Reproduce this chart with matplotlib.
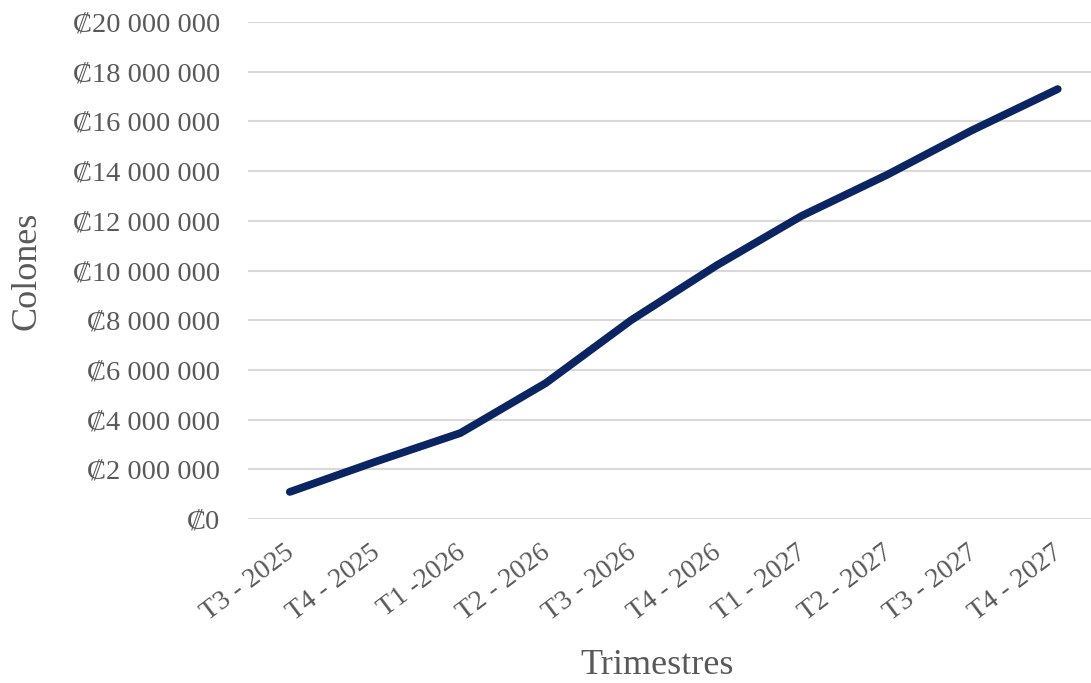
import matplotlib
matplotlib.use("Agg")
import matplotlib.pyplot as plt
from matplotlib.ticker import FuncFormatter, MultipleLocator
from matplotlib.transforms import ScaledTranslation

# Ingresos acumulados por trimestre (colones)
trimestres = ["T3 - 2025", "T4 - 2025", "T1 -2026", "T2 - 2026", "T3 - 2026",
              "T4 - 2026", "T1 - 2027", "T2 - 2027", "T3 - 2027", "T4 - 2027"]
colones = [1090000, 2300000, 3460000, 5470000, 8000000,
           10200000, 12200000, 13850000, 15650000, 17300000]

plt.rcParams['font.family'] = ['Liberation Serif', 'DejaVu Serif']
gris = '#595959'

fig = plt.figure(figsize=(10.91, 6.83), dpi=100)
ax = fig.add_axes([248 / 1091, 1 - 519 / 683, 1 - 248 / 1091, (519 - 22) / 683])

x = list(range(len(trimestres)))
ax.plot(x, colones, color='#0b2462', linewidth=5.6, solid_capstyle='round',
        solid_joinstyle='round', zorder=3)

ax.set_ylim(0, 20000000)
ax.set_xlim(-0.49, 9.39)
ax.yaxis.set_major_locator(MultipleLocator(2000000))


def fmt_colones(v, pos):
    return '\u20a1' + f'{int(v):,}'.replace(',', ' ')


ax.yaxis.set_major_formatter(FuncFormatter(fmt_colones))
ax.grid(axis='y', color='#d9d9d9', linewidth=1.5)
ax.set_axisbelow(True)
for s in ax.spines.values():
    s.set_visible(False)

ax.set_xticks(x)
ax.set_xticklabels(trimestres, rotation=37, ha='right', va='top',
                   rotation_mode='anchor')
ax.tick_params(axis='both', length=0, colors=gris)
ax.tick_params(axis='y', pad=20, labelsize=20.5)
ax.tick_params(axis='x', pad=15, labelsize=20)

# mover un poco las etiquetas del eje x hacia la izquierda
desplazamiento = ScaledTranslation(-4 / 72, 0, fig.dpi_scale_trans)
for lbl in ax.get_xticklabels():
    lbl.set_transform(lbl.get_transform() + desplazamiento)

# titulos de los ejes
fig.text(27 / 1091, 1 - 271 / 683, 'Colones', rotation=90, ha='center',
         va='center', fontsize=26, color=gris)
fig.text(657 / 1091, 1 - 666 / 683, 'Trimestres', ha='center', va='center',
         fontsize=26, color=gris)

fig.savefig('out.png', dpi=100)
